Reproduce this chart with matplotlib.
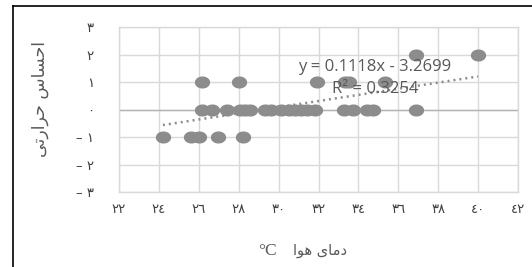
import numpy as np
import matplotlib
matplotlib.use("Agg")
import matplotlib.pyplot as plt
from matplotlib.path import Path
from matplotlib.lines import Line2D

# ---- data ----
temp_minus1 = [24.2, 25.6, 26.0, 26.95, 28.2]
temp_zero = [26.15, 26.65, 27.4, 28.05, 28.3, 28.55, 29.3, 29.6, 30.1, 30.5,
             30.8, 31.1, 31.4, 31.8, 33.3, 33.75, 34.45, 34.75, 36.9]
temp_one = [26.15, 28.0, 31.9, 33.35, 33.55, 35.35]
temp_two = [36.9, 40.0]

sensation_minus1 = [-1] * len(temp_minus1)
sensation_zero = [0] * len(temp_zero)
sensation_one = [1] * len(temp_one)
sensation_two = [2] * len(temp_two)

trend_slope = 0.1118
trend_intercept = -3.2699
trend_label = "y = 0.1118x - 3.2699"
r2_label = "R\u00b2 = 0.3254"

x_ticks = [22, 24, 26, 28, 30, 32, 34, 36, 38, 40, 42]
x_tick_labels = ["\u0662\u0662", "\u0662\u0664", "\u0662\u0666", "\u0662\u0668", "\u0663\u0660",
                 "\u0663\u0662", "\u0663\u0664", "\u0663\u0666", "\u0663\u0668", "\u0664\u0660", "\u0664\u0662"]
y_ticks = [-3, -2, -1, 0, 1, 2, 3]
y_tick_labels = ["\u2013 \u0663", "\u2013 \u0662", "\u2013 \u0661", "\u0660", "\u0661", "\u0662", "\u0663"]

# shaped (presentation forms, visual order) labels
y_label = "\uFEF0\uFE97\uFEAD\uFE8D\uFEAE\uFEA3 \uFEB1\uFE8E\uFEB4\uFEA3\uFE8D"  # احساس حرارتی
x_label = "\uFE8D\uFEEE\uFEEB \uFEEF\uFE8E\uFEE3\uFEA9"  # دمای هوا
x_unit = "\u00b0C"

xs = np.array(temp_minus1 + temp_zero + temp_one + temp_two)
ys = np.array(sensation_minus1 + sensation_zero + sensation_one + sensation_two)

W, H = 532, 267
fig = plt.figure(figsize=(W / 100, H / 100), dpi=100)
ax = fig.add_axes([119 / W, 1 - 192 / H, (518 - 119) / W, (192 - 27) / H])

grid_c = "#d9d9d9"
txt_c = "#595959"
tick_c = "#404040"
mark_c = "#8c8c8c"

ax.set_xlim(22, 42)
ax.set_ylim(-3, 3)
ax.set_xticks(x_ticks)
ax.set_xticklabels(x_tick_labels, family=["DejaVu Sans"], fontsize=9.5, color=tick_c)
ax.set_yticks(y_ticks)
ax.set_yticklabels(y_tick_labels, family=["DejaVu Sans"], fontsize=9.5, color=tick_c)
ax.tick_params(axis="both", length=0)
ax.tick_params(axis="x", pad=8)
ax.tick_params(axis="y", pad=18)
ax.grid(True, color=grid_c, linewidth=1.0, zorder=0)
ax.set_axisbelow(True)
for s in ax.spines.values():
    s.set_color(grid_c)
    s.set_linewidth(1.0)
ax.axhline(0, color="#b3b3b3", linewidth=1.0, zorder=1)

# ellipse marker
t = np.linspace(0, 2 * np.pi, 60)
ell = Path(np.column_stack([1.3 * np.cos(t), np.sin(t)]), closed=True)
ax.plot(xs, ys, linestyle="none", marker=ell, markersize=10,
        markerfacecolor=mark_c, markeredgecolor=mark_c, zorder=3)

xt = np.array([xs.min(), xs.max()])
ax.plot(xt, trend_slope * xt + trend_intercept, color=mark_c, linewidth=1.8,
        linestyle=(0, (0.8, 1.6)), zorder=4)

ax.text(34.8, 1.53, trend_label, ha="center", va="center", fontsize=12,
        color=txt_c, family=["Open Sans"], zorder=5)
ax.text(34.85, 0.76, r2_label, ha="center", va="center", fontsize=12,
        color=txt_c, family=["Open Sans"], zorder=5)

fig.text(40 / W, 1 - 99 / H, y_label, rotation=90, ha="center", va="center",
         fontsize=12.5, color=txt_c, family=["DejaVu Sans"])
fig.text(320 / W, 1 - 251 / H, x_label, ha="center", va="center",
         fontsize=10.5, color=txt_c, family=["DejaVu Sans"])
fig.text(267.5 / W, 1 - 251 / H, x_unit, ha="center", va="center",
         fontsize=12.5, color=txt_c, family=["Liberation Serif"])

# outer frame (left and top edges visible)
fig.add_artist(Line2D([12.5 / W, 12.5 / W], [0, 1 - 6 / H], transform=fig.transFigure,
                      color="black", linewidth=1.2))
fig.add_artist(Line2D([12.5 / W, 1], [1 - 6 / H, 1 - 6 / H], transform=fig.transFigure,
                      color="black", linewidth=1.2))

fig.savefig("out.png", dpi=100)
